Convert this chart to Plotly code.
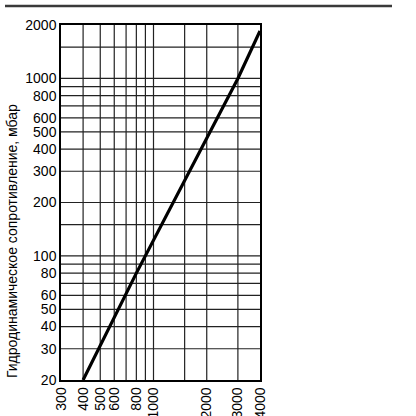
import plotly.graph_objects as go

# flow vs hydrodynamic resistance
flow = [400, 800, 3000, 4000]
resistance = [20, 80, 1000, 1850]

x_grid = [400, 500, 600, 700, 800, 900, 1000, 1500, 2000, 3000]
y_grid = [30, 40, 50, 60, 70, 80, 90, 100, 150, 200, 300, 400, 500, 600, 700, 800, 900, 1000, 1500]

x_ticks = [300, 400, 500, 600, 800, 1000, 2000, 3000, 4000]
y_ticks = [20, 30, 40, 50, 60, 80, 100, 200, 300, 400, 500, 600, 800, 1000, 2000]

y_title = 'Гидродинамическое сопротивление, мбар'

font = 'Liberation Sans, Arial, sans-serif'

fig = go.Figure()

# grid drawn as line traces so every minor value gets a line
for xv in x_grid:
    fig.add_trace(go.Scatter(x=[xv, xv], y=[20, 2000], mode='lines',
                             line={'color': '#222222', 'width': 1.2},
                             hoverinfo='skip', showlegend=False))
for yv in y_grid:
    fig.add_trace(go.Scatter(x=[300, 4000], y=[yv, yv], mode='lines',
                             line={'color': '#222222', 'width': 1.2},
                             hoverinfo='skip', showlegend=False))

fig.add_trace(go.Scatter(x=flow, y=resistance, mode='lines',
                         line={'color': 'black', 'width': 3.2},
                         showlegend=False))

fig.update_layout(
    width=416, height=416,
    margin={'l': 61, 'r': 156, 't': 25, 'b': 36},
    paper_bgcolor='white', plot_bgcolor='white',
    font={'family': font, 'size': 14, 'color': 'black'},
    showlegend=False,
    xaxis={'type': 'log', 'range': [2.4771, 3.6021],
           'tickvals': x_ticks, 'ticktext': [str(v) for v in x_ticks],
           'tickangle': -90, 'showgrid': False, 'zeroline': False,
           'showline': True, 'linecolor': 'black', 'linewidth': 1.5, 'mirror': True,
           'ticks': '', 'ticklen': 0, 'automargin': False,
           'tickfont': {'size': 14}},
    yaxis={'type': 'log', 'range': [1.30103, 3.30103],
           'tickvals': y_ticks, 'ticktext': [str(v) for v in y_ticks],
           'showgrid': False, 'zeroline': False,
           'showline': True, 'linecolor': 'black', 'linewidth': 1.5, 'mirror': True,
           'ticks': '', 'ticklen': 0, 'automargin': False,
           'tickfont': {'size': 14}},
)

# y title sits lower than the plot centre in the original
fig.add_annotation(text=y_title, xref='paper', yref='paper',
                   x=-61 / 199 + 12 / 199, y=(380 - 241) / 355,
                   xanchor='center', yanchor='middle', textangle=-90,
                   showarrow=False, font={'size': 14, 'color': 'black'})

# rule across the top of the page
fig.add_shape(type='line', xref='paper', yref='paper',
              x0=-56 / 199, x1=331 / 199, y0=(380 - 6) / 355, y1=(380 - 6) / 355,
              line={'color': '#3a3a3a', 'width': 2.5})

fig.write_html('out.html', config={'displayModeBar': False},
               post_script="document.body.style.margin='0';")
